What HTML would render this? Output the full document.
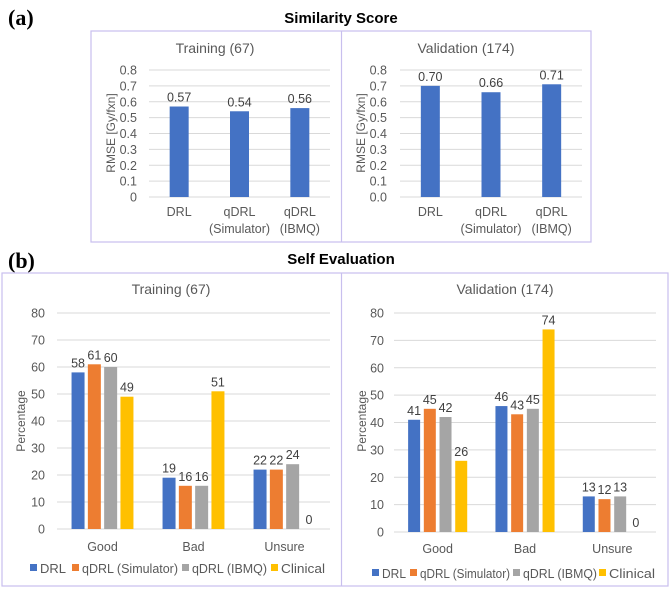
<!DOCTYPE html>
<html><head><meta charset="utf-8">
<style>
html,body{margin:0;padding:0;background:#fff;}
body{width:669px;height:589px;overflow:hidden;position:relative;font-family:"Liberation Sans","DejaVu Sans",sans-serif;}
svg{position:absolute;left:0;top:0;}
</style></head>
<body>
<svg id="fig" width="669" height="589" viewBox="0 0 669 589" xmlns="http://www.w3.org/2000/svg">
  <text x="8" y="25" font-family="Liberation Serif, serif" font-weight="bold" font-size="22" fill="#000">(a)</text>
  <text x="341" y="23" text-anchor="middle" font-weight="bold" font-size="15" fill="#000">Similarity Score</text>
  <rect x="91" y="31" width="500" height="211" fill="none" stroke="#c8bfee" stroke-width="1.2"/>
  <line x1="341.5" y1="31" x2="341.5" y2="242" stroke="#c8bfee" stroke-width="1.2"/>
  <text x="8" y="268" font-family="Liberation Serif, serif" font-weight="bold" font-size="22" fill="#000">(b)</text>
  <text x="341" y="264" text-anchor="middle" font-weight="bold" font-size="15" fill="#000">Self Evaluation</text>
  <rect x="2" y="273" width="666" height="313" fill="none" stroke="#c8bfee" stroke-width="1.2"/>
  <line x1="341.5" y1="273" x2="341.5" y2="586" stroke="#c8bfee" stroke-width="1.2"/>
</svg>
<script>
// ---- Data ----
const simCategories = [["DRL"], ["qDRL", "(Simulator)"], ["qDRL", "(IBMQ)"]];
const simTrainValues = [0.57, 0.54, 0.56];
const simValidValues = [0.70, 0.66, 0.71];
const simTrainTicks = ["0", "0.1", "0.2", "0.3", "0.4", "0.5", "0.6", "0.7", "0.8"];
const simValidTicks = ["0.0", "0.1", "0.2", "0.3", "0.4", "0.5", "0.6", "0.7", "0.8"];

const evalCategories = ["Good", "Bad", "Unsure"];
const seriesNames = ["DRL", "qDRL (Simulator)", "qDRL (IBMQ)", "Clinical"];
const trainDRL = [58, 19, 22];
const trainSim = [61, 16, 22];
const trainIBMQ = [60, 16, 24];
const trainClinical = [49, 51, 0];
const validDRL = [41, 46, 13];
const validSim = [45, 43, 12];
const validIBMQ = [42, 45, 13];
const validClinical = [26, 74, 0];
const evalTicks = ["0", "10", "20", "30", "40", "50", "60", "70", "80"];

const COLORS = ["#4472C4", "#ED7D31", "#A5A5A5", "#FFC000"];
const TXT = "#595959";
const NS = "http://www.w3.org/2000/svg";
const svg = document.getElementById("fig");

function mk(tag, attrs, text) {
  const e = document.createElementNS(NS, tag);
  for (const k in attrs) e.setAttribute(k, attrs[k]);
  if (text !== undefined) e.textContent = text;
  svg.appendChild(e);
  return e;
}

function drawChart(cfg) {
  const yScale = v => cfg.y0 - (v / cfg.max) * (cfg.y0 - cfg.yTop);
  const t = mk("text", {x: cfg.titleX, y: cfg.titleY, "text-anchor": "middle", "font-size": 14, fill: TXT}, cfg.title);
  
  
  cfg.ticks.forEach((lab, i) => {
    const v = cfg.max * i / (cfg.ticks.length - 1);
    const y = yScale(v);
    const g = mk("line", {x1: cfg.x0, x2: cfg.x1, y1: y, y2: y, stroke: "#d9d9d9", "stroke-width": 1});
    
    
    const tl = mk("text", {x: cfg.tickX, y: y + 4.5, "text-anchor": "end", "font-size": 12.5, fill: TXT}, lab);
    
    
  });
  const yt = mk("text", {x: cfg.yTitleX, y: cfg.yTitleY, "text-anchor": "middle", "font-size": 12, fill: TXT,
    transform: `rotate(-90 ${cfg.yTitleX} ${cfg.yTitleY})`}, cfg.yTitle);
  
  
  const nc = cfg.categories.length;
  const cw = (cfg.x1 - cfg.x0) / nc;
  const ns = cfg.series.length;
  cfg.categories.forEach((cat, ci) => {
    const cx = cfg.x0 + cw * (ci + 0.5);
    const groupW = ns * cfg.step - (cfg.step - cfg.barW);
    cfg.series.forEach((vals, si) => {
      const v = vals[ci];
      const bx = cx - groupW / 2 + si * cfg.step;
      const by = yScale(v);
      const r = mk("rect", {x: bx, y: by, width: cfg.barW, height: Math.max(0, cfg.y0 - by), fill: COLORS[si]});
      
      
      const lbl = mk("text", {x: bx + cfg.barW / 2, y: by - 5, "text-anchor": "middle", "font-size": 12.5, fill: "#404040"},
        cfg.fmt(v));
      
      
    });
    const lines = Array.isArray(cat) ? cat : [cat];
    lines.forEach((ln, li) => {
      const cl = mk("text", {x: cx, y: cfg.catY + li * 17, "text-anchor": "middle", "font-size": 12.5, fill: TXT}, ln);
      
      
    });
  });
  if (cfg.legendX) {
    seriesNames.forEach((nm, si) => {
      const lx = cfg.legendX[si];
      const sq = mk("rect", {x: lx, y: cfg.legendY - 9, width: 7, height: 7, fill: COLORS[si]});
      
      
      const lt = mk("text", {x: lx + 10, y: cfg.legendY, "font-size": 12.5, fill: TXT,
        textLength: cfg.legendW[si], lengthAdjust: "spacingAndGlyphs"}, nm);
      
      
    });
  }
}

drawChart({id: "sim-train", title: "Training (67)", titleX: 215, titleY: 53, categories: simCategories,
  series: [simTrainValues], max: 0.8, y0: 197, yTop: 70, x0: 149, x1: 330, tickX: 137, ticks: simTrainTicks,
  yTitle: "RMSE [Gy/fxn]", yTitleX: 115, yTitleY: 133, barW: 19, step: 19, catY: 216, fmt: v => v.toFixed(2)});
drawChart({id: "sim-valid", title: "Validation (174)", titleX: 466, titleY: 53, categories: simCategories,
  series: [simValidValues], max: 0.8, y0: 197, yTop: 70, x0: 400, x1: 582, tickX: 387, ticks: simValidTicks,
  yTitle: "RMSE [Gy/fxn]", yTitleX: 365, yTitleY: 133, barW: 19, step: 19, catY: 216, fmt: v => v.toFixed(2)});
drawChart({id: "eval-train", title: "Training (67)", titleX: 171, titleY: 294, categories: evalCategories,
  series: [trainDRL, trainSim, trainIBMQ, trainClinical], max: 80, y0: 529, yTop: 313, x0: 57, x1: 330, tickX: 45,
  ticks: evalTicks, yTitle: "Percentage", yTitleX: 25, yTitleY: 421, barW: 13, step: 16.3, catY: 551,
  fmt: v => String(Math.round(v)), legendX: [30, 72, 182, 271], legendW: [26, 96, 75, 44], legendY: 573});
drawChart({id: "eval-valid", title: "Validation (174)", titleX: 505, titleY: 294, categories: evalCategories,
  series: [validDRL, validSim, validIBMQ, validClinical], max: 80, y0: 532, yTop: 313, x0: 394, x1: 656, tickX: 384,
  ticks: evalTicks, yTitle: "Percentage", yTitleX: 366, yTitleY: 421, barW: 12, step: 15.7, catY: 553,
  fmt: v => String(Math.round(v)), legendX: [372, 410, 513, 599], legendW: [24, 90, 74, 46], legendY: 578});
</script>
</body></html>
